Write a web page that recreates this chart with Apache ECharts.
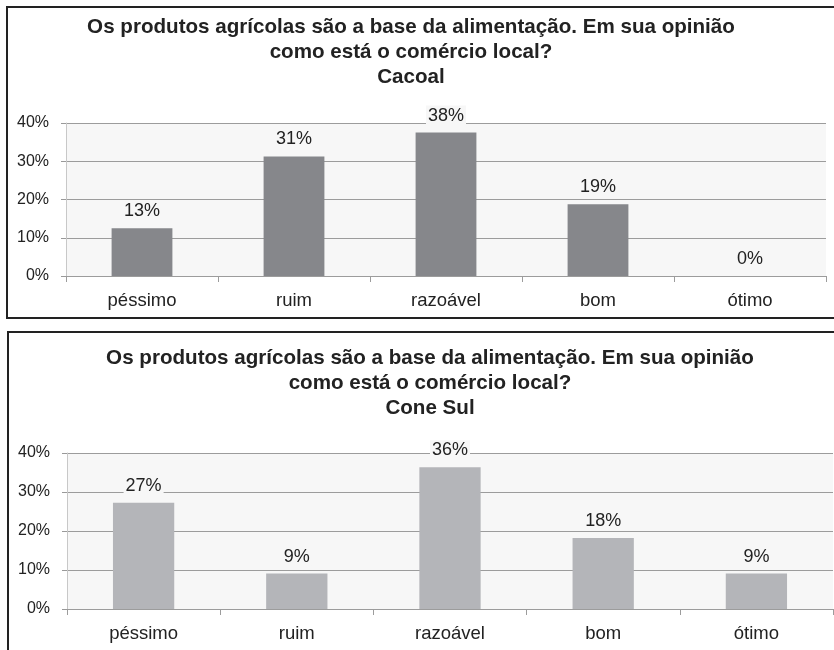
<!DOCTYPE html>
<html>
<head>
<meta charset="utf-8">
<script src="https://cdn.jsdelivr.net/npm/echarts@6/dist/echarts.min.js"></script>
<style>
html,body{margin:0;padding:0;background:#fff;}
#chart{width:834px;height:650px;}
</style>
</head>
<body>
<div id="chart"></div>
<script>
const categories = ['péssimo', 'ruim', 'razoável', 'bom', 'ótimo'];
const cacoalValues = [12.5, 31.25, 37.5, 18.75, 0];
const coneSulValues = [27.27, 9.09, 36.36, 18.18, 9.09];
const yTicks = [0, 10, 20, 30, 40];
const titleMain = 'Os produtos agrícolas são a base da alimentação. Em sua opinião\ncomo está o comércio local?';
const titleCacoal = 'Cacoal';
const titleConeSul = 'Cone Sul';

const FONT = '"Liberation Sans", Arial, sans-serif';
const chart = echarts.init(document.getElementById('chart'), null, {renderer: 'canvas'});

function yAxis(gi) {
  return {
    type: 'value', gridIndex: gi,
    min: yTicks[0], max: yTicks[yTicks.length - 1], interval: yTicks[1] - yTicks[0],
    axisLine: {show: true, lineStyle: {color: '#c8c8c8', width: 1}},
    axisTick: {show: true, length: 5, lineStyle: {color: '#999', width: 1}},
    splitLine: {show: true, lineStyle: {color: '#9c9c9c', width: 1}},
    axisLabel: {formatter: '{value}%', color: '#222', fontFamily: FONT, fontSize: 16, margin: 17}
  };
}
function xAxis(gi) {
  return {
    type: 'category', gridIndex: gi, data: categories,
    axisLine: {show: true, lineStyle: {color: '#9c9c9c', width: 1}},
    axisTick: {show: true, length: 6, alignWithLabel: false, lineStyle: {color: '#9c9c9c', width: 1}},
    axisLabel: {color: '#222', fontFamily: FONT, fontSize: 18.5, margin: 15}
  };
}
function barSeries(gi, values, color) {
  return {
    type: 'bar', xAxisIndex: gi, yAxisIndex: gi, data: values,
    barWidth: '40%',
    itemStyle: {color: color},
    label: {
      show: true, position: 'top', distance: 8,
      formatter: p => Math.round(p.value) + '%',
      color: '#222', fontFamily: FONT, fontSize: 18,
      backgroundColor: '#f7f7f7', padding: [1, 2, 0, 2]
    }
  };
}

chart.setOption({
  animation: false,
  backgroundColor: '#fff',
  title: [
    {text: titleMain + '\n' + titleCacoal, left: 411, top: 14.5, textAlign: 'center', padding: 0,
     textStyle: {fontFamily: FONT, fontSize: 20.6, fontWeight: 'bold', color: '#222', lineHeight: 25}},
    {text: titleMain + '\n' + titleConeSul, left: 430, top: 345.5, textAlign: 'center', padding: 0,
     textStyle: {fontFamily: FONT, fontSize: 20.6, fontWeight: 'bold', color: '#222', lineHeight: 25}}
  ],
  grid: [
    {left: 66, right: 8, top: 123, height: 153, show: true, backgroundColor: '#f7f7f7', borderWidth: 0, containLabel: false},
    {left: 67, right: 1, top: 453, height: 156, show: true, backgroundColor: '#f7f7f7', borderWidth: 0, containLabel: false}
  ],
  xAxis: [xAxis(0), xAxis(1)],
  yAxis: [yAxis(0), yAxis(1)],
  series: [
    barSeries(0, cacoalValues, '#86878b'),
    barSeries(1, coneSulValues, '#b4b5b9')
  ],
  graphic: [
    {type: 'rect', silent: true, z: 100, shape: {x: 7, y: 7, width: 840, height: 311},
     style: {fill: null, stroke: '#222', lineWidth: 2}},
    {type: 'rect', silent: true, z: 100, shape: {x: 8, y: 332, width: 840, height: 400},
     style: {fill: null, stroke: '#222', lineWidth: 2}}
  ]
});
</script>
</body>
</html>
